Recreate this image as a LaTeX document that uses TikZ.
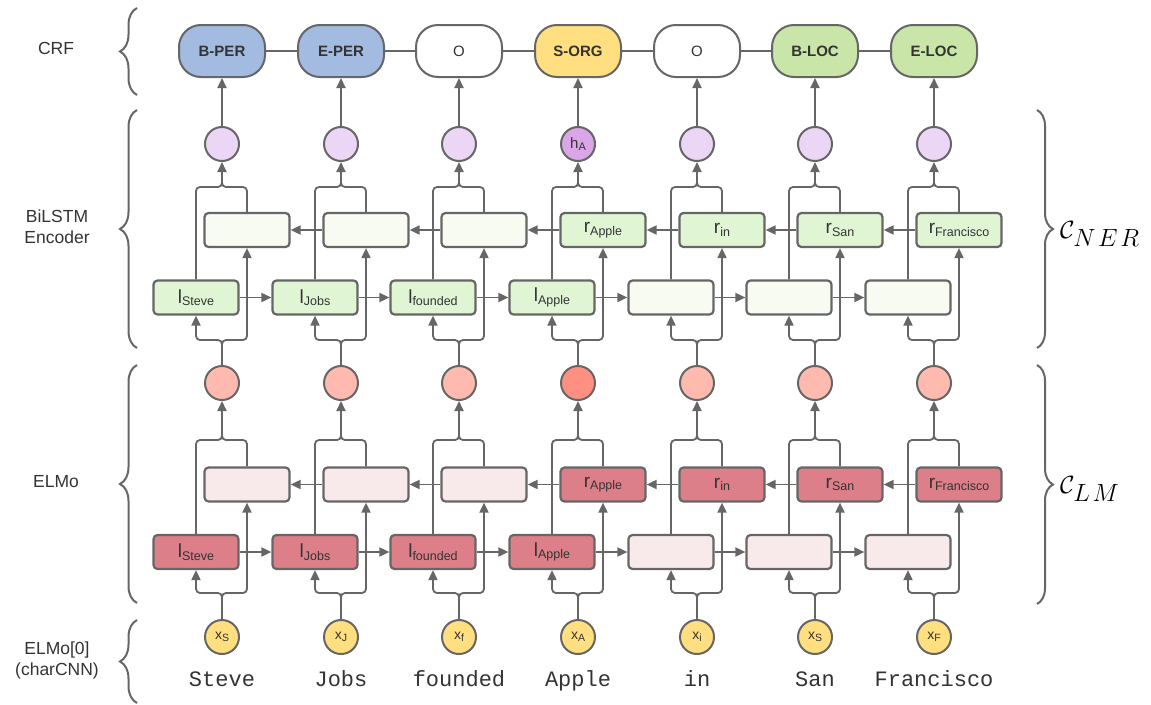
\documentclass[tikz,border=0pt]{standalone}
\usepackage{fontspec}
\setmainfont{Liberation Sans}
\setmonofont{Liberation Mono}
\usetikzlibrary{arrows.meta,decorations.pathreplacing,calc}
\definecolor{ln}{HTML}{666666}
\definecolor{txt}{HTML}{333333}
\definecolor{perblue}{HTML}{A3BBE0}
\definecolor{orgyel}{HTML}{FFDF80}
\definecolor{locgreen}{HTML}{C9E6A8}
\definecolor{purl}{HTML}{ECD6F5}
\definecolor{purd}{HTML}{DAA6E8}
\definecolor{gact}{HTML}{E0F5D4}
\definecolor{gina}{HTML}{F7FBF2}
\definecolor{pinkc}{HTML}{FFBAAF}
\definecolor{pinkd}{HTML}{FF8F80}
\definecolor{ract}{HTML}{DC7F88}
\definecolor{rina}{HTML}{F8EAEA}
\definecolor{xyel}{HTML}{FFDF80}
\newcommand\cellab[2]{{\fontsize{19}{19}\selectfont #1}{\fontsize{12.5}{13}\selectfont\raisebox{-2.5pt}{#2}}}
\newcommand\smlab[2]{{\fontsize{15}{15}\selectfont #1}{\fontsize{11}{11}\selectfont\raisebox{-2.5pt}{#2}}}
\tikzset{
  crf/.style={draw=ln, line width=2pt, rounded corners=22pt, minimum width=86pt, minimum height=52pt, inner sep=0pt, font=\fontsize{15}{15}\selectfont\bfseries, text=txt},
  cell/.style={draw=ln, line width=2.2pt, rounded corners=4pt, minimum width=85pt, minimum height=34pt, inner sep=0pt, text=txt},
  hcirc/.style={circle, draw=ln, line width=2pt, minimum size=34pt, inner sep=0pt, text=txt},
  conn/.style={draw=ln, line width=1.8pt},
  arr/.style={conn, -{Triangle[length=10pt,width=9pt]}},
  brc/.style={draw=ln, line width=2pt, decorate, decoration={brace, amplitude=17pt}},
  rbrc/.style={draw=ln, line width=2pt, decorate, decoration={brace, amplitude=16pt}},
  side/.style={text=txt, font=\fontsize{17.5}{21}\selectfont, align=center},
  word/.style={text=txt, font=\ttfamily\fontsize{22}{22}\selectfont, anchor=base, inner sep=0pt}
}
\begin{document}
\begin{tikzpicture}[x=1pt,y=-1pt]
\useasboundingbox (0,0) rectangle (1151,704);
% CRF row
\foreach \i/\t/\f in {0/B-PER/perblue,1/E-PER/perblue,2/{\mdseries O}/white,3/S-ORG/orgyel,4/{\mdseries O}/white,5/B-LOC/locgreen,6/E-LOC/locgreen}
  \node[crf, fill=\f] (t\i) at ({round(222+118.7*\i)},51) {\t};
\foreach \i [evaluate=\i as \j using int(\i+1)] in {0,...,5}
  \draw[conn] (t\i) -- (t\j);
% hidden output circles
\foreach \i in {0,...,6}{
  \ifnum\i=3
    \node[hcirc, fill=purd] (h\i) at ({round(222+118.7*\i)},144) {\smlab{h}{A}};
  \else
    \node[hcirc, fill=purl] (h\i) at ({round(222+118.7*\i)},144) {};
  \fi
  \draw[arr] (h\i) -- (t\i);
}
% BiLSTM cells
\foreach \i/\f/\t in {0/gina/{},1/gina/{},2/gina/{},3/gact/{\cellab{r}{Apple}},4/gact/{\cellab{r}{in}},5/gact/{\cellab{r}{San}},6/gact/{\cellab{r}{Francisco}}}
  \node[cell, fill=\f] (br\i) at ({round(222+118.7*\i)+25},230) {\t};
\foreach \i/\f/\t in {0/gact/{\cellab{l}{Steve}},1/gact/{\cellab{l}{Jobs}},2/gact/{\cellab{l}{founded}},3/gact/{\cellab{l}{Apple}},4/gina/{},5/gina/{},6/gina/{}}
  \node[cell, fill=\f] (bl\i) at ({round(222+118.7*\i)-26},297.5) {\t};
% ELMo circles
\foreach \i in {0,...,6}{
  \ifnum\i=3
    \node[hcirc, fill=pinkd] (e\i) at ({round(222+118.7*\i)},383) {};
  \else
    \node[hcirc, fill=pinkc] (e\i) at ({round(222+118.7*\i)},383) {};
  \fi
}
% ELMo cells
\foreach \i/\f/\t in {0/rina/{},1/rina/{},2/rina/{},3/ract/{\cellab{r}{Apple}},4/ract/{\cellab{r}{in}},5/ract/{\cellab{r}{San}},6/ract/{\cellab{r}{Francisco}}}
  \node[cell, fill=\f] (er\i) at ({round(222+118.7*\i)+25},484.5) {\t};
\foreach \i/\f/\t in {0/ract/{\cellab{l}{Steve}},1/ract/{\cellab{l}{Jobs}},2/ract/{\cellab{l}{founded}},3/ract/{\cellab{l}{Apple}},4/rina/{},5/rina/{},6/rina/{}}
  \node[cell, fill=\f] (el\i) at ({round(222+118.7*\i)-26},552) {\t};
% char inputs and words
\foreach \i/\s/\w in {0/S/Steve,1/J/Jobs,2/f/founded,3/A/Apple,4/i/in,5/S/San,6/F/Francisco}{
  \node[hcirc, fill=xyel] (x\i) at ({round(222+118.7*\i)},637) {{\fontsize{14}{14}\selectfont x}{\fontsize{10.5}{11}\selectfont\raisebox{-2.5pt}{\s}}};
  \node[word] (w\i) at ({round(222+118.7*\i)},686) {\w};
}
% connectors per column
\foreach \i in {0,...,6}{
  \coordinate (bf\i) at ({round(222+118.7*\i)},187);
  \coordinate (bg\i) at ({round(222+118.7*\i)},340);
  \coordinate (ef\i) at ({round(222+118.7*\i)},440);
  \coordinate (eg\i) at ({round(222+118.7*\i)},593);
  % BiLSTM top fork
  \draw[arr, rounded corners=4pt] (bl\i.north) |- (bf\i) -- (h\i);
  \draw[conn, rounded corners=4pt] (br\i.north) |- (bf\i) -- ++(0,-10);
  % BiLSTM bottom fork
  \draw[arr, rounded corners=4pt] (e\i) -- (bg\i) -| (bl\i.south);
  \draw[arr, rounded corners=4pt] (e\i) -- (bg\i) -| (br\i.south);
  % ELMo top fork
  \draw[arr, rounded corners=4pt] (el\i.north) |- (ef\i) -- (e\i);
  \draw[conn, rounded corners=4pt] (er\i.north) |- (ef\i) -- ++(0,-10);
  % ELMo bottom fork
  \draw[arr, rounded corners=4pt] (x\i) -- (eg\i) -| (el\i.south);
  \draw[arr, rounded corners=4pt] (x\i) -- (eg\i) -| (er\i.south);
}
% recurrent arrows
\foreach \i [evaluate=\i as \j using int(\i+1)] in {0,...,5}{
  \draw[arr] (bl\i.east) -- (bl\j.west);
  \draw[arr] (br\j.west) -- (br\i.east);
  \draw[arr] (el\i.east) -- (el\j.west);
  \draw[arr] (er\j.west) -- (er\i.east);
}
% left braces and labels
\coordinate (lb1a) at (137,95);  \coordinate (lb1b) at (137,8);
\coordinate (lb2a) at (137,348); \coordinate (lb2b) at (137,110);
\coordinate (lb3a) at (137,603); \coordinate (lb3b) at (137,365);
\coordinate (lb4a) at (137,703); \coordinate (lb4b) at (137,620);
\draw[brc] (lb1a) -- (lb1b);
\draw[brc] (lb2a) -- (lb2b);
\draw[brc] (lb3a) -- (lb3b);
\draw[brc] (lb4a) -- (lb4b);
\node[side] (lcrf) at (56,48) {CRF};
\node[side] (lbil) at (57,227) {BiLSTM\\Encoder};
\node[side] (lelm) at (56,482) {ELMo};
\node[side] (lchr) at (57,660) {ELMo[0]\\(charCNN)};
% right braces and labels
\coordinate (rb1a) at (1037,110); \coordinate (rb1b) at (1037,348);
\coordinate (rb2a) at (1037,365); \coordinate (rb2b) at (1037,604);
\draw[rbrc] (rb1a) -- (rb1b);
\draw[rbrc] (rb2a) -- (rb2b);
\node[anchor=west, inner sep=0pt, text=black] (cner) at (1060,234) {\fontsize{34}{34}\selectfont$\mathcal{C}_{N\mkern2mu E\mkern2mu R}$};
\node[anchor=west, inner sep=0pt, text=black] (clm) at (1060,489) {\fontsize{34}{34}\selectfont$\mathcal{C}_{L\mkern2mu M}$};
\end{tikzpicture}
\end{document}
